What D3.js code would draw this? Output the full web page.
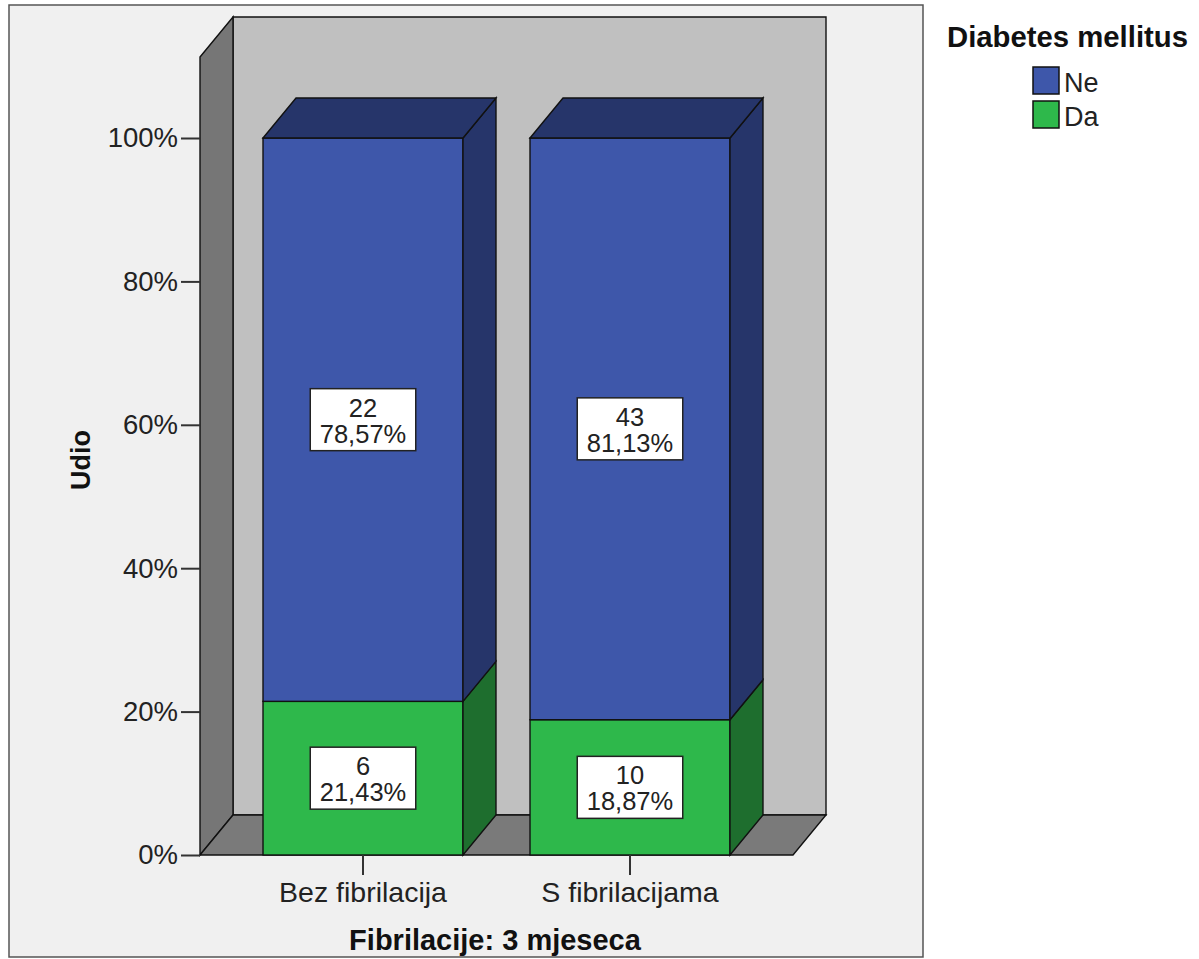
<!DOCTYPE html>
<html><head><meta charset="utf-8">
<script src="https://cdn.jsdelivr.net/npm/d3@7"></script>
<style>
html,body{margin:0;padding:0;background:#fff;}
svg{display:block;font-family:"Liberation Sans",Arial,sans-serif;}
</style></head>
<body>
<svg id="chart" width="1199" height="959"></svg>
<script>
// ---- data ----
const categories = ["Bez fibrilacija", "S fibrilacijama"];
const seriesNames = ["Ne", "Da"];
const countsNe = [22, 43];
const countsDa = [6, 10];
const pctNe = [78.57, 81.13];
const pctDa = [21.43, 18.87];
const yTicks = [0, 20, 40, 60, 80, 100];
const yTickLabels = ["0%", "20%", "40%", "60%", "80%", "100%"];
const yTitle = "Udio";
const xTitle = "Fibrilacije: 3 mjeseca";
const legendTitle = "Diabetes mellitus";

// ---- styles ----
const colFront = {Ne: "#3e57aa", Da: "#2eb84b"};
const colDark = {Ne: "#26356a", Da: "#1e6e2e"};
const DX = 33, DY = 40;
const font = '"Liberation Sans", Arial, sans-serif';

const svg = d3.select("#chart");

// frame
svg.append("rect").attr("x", 9).attr("y", 5).attr("width", 914).attr("height", 952)
  .attr("fill", "#f0f0f0").attr("stroke", "#555").attr("stroke-width", 1.5);

const x = d3.scaleBand().domain(categories).range([200, 793]).paddingInner(0.251).paddingOuter(0.236);
const y = d3.scaleLinear().domain([0, 100]).range([855, 138]);
const wallTopVal = 111.3;

const x0 = 200, x1 = 793;
const yb = y(0), yt = y(wallTopVal);
const stroke = "#111", sw = 1.4;

// back wall
svg.append("polygon")
  .attr("points", [[x0 + DX, yt - DY], [x1 + DX, yt - DY], [x1 + DX, yb - DY], [x0 + DX, yb - DY]].join(" "))
  .attr("fill", "#c0c0c0").attr("stroke", stroke).attr("stroke-width", sw);
// left wall
svg.append("polygon")
  .attr("points", [[x0, yt], [x0 + DX, yt - DY], [x0 + DX, yb - DY], [x0, yb]].join(" "))
  .attr("fill", "#767676").attr("stroke", stroke).attr("stroke-width", sw);
// floor
svg.append("polygon")
  .attr("points", [[x0, yb], [x0 + DX, yb - DY], [x1 + DX, yb - DY], [x1, yb]].join(" "))
  .attr("fill", "#7a7a7a").attr("stroke", stroke).attr("stroke-width", sw);

// y axis
const yAxis = svg.append("g").attr("transform", `translate(${x0},0)`)
  .call(d3.axisLeft(y).tickValues(yTicks).tickFormat((d, i) => yTickLabels[i]).tickSize(19).tickPadding(3));
yAxis.select(".domain").remove();
yAxis.selectAll("line").attr("stroke", "#333").attr("stroke-width", 2);
yAxis.selectAll("text").attr("font-family", font).attr("font-size", 27.5).attr("fill", "#222");

// bars
const rows = categories.map((c, i) => ({
  cat: c,
  segs: [
    {s: "Da", lo: 0, hi: pctDa[i], n: countsDa[i], p: pctDa[i]},
    {s: "Ne", lo: pctDa[i], hi: pctDa[i] + pctNe[i], n: countsNe[i], p: pctNe[i]}
  ]
}));

const fmt = v => v.toFixed(2).replace(".", ",") + "%";

rows.forEach(r => {
  const bx0 = x(r.cat), bx1 = x(r.cat) + x.bandwidth();
  const g = svg.append("g");
  r.segs.forEach(sg => {
    g.append("rect").attr("x", bx0).attr("y", y(sg.hi)).attr("width", bx1 - bx0).attr("height", y(sg.lo) - y(sg.hi))
      .attr("fill", colFront[sg.s]).attr("stroke", stroke).attr("stroke-width", sw);
    g.append("polygon")
      .attr("points", [[bx1, y(sg.hi)], [bx1 + DX, y(sg.hi) - DY], [bx1 + DX, y(sg.lo) - DY], [bx1, y(sg.lo)]].join(" "))
      .attr("fill", colDark[sg.s]).attr("stroke", stroke).attr("stroke-width", sw);
  });
  const top = r.segs[r.segs.length - 1];
  g.append("polygon")
    .attr("points", [[bx0, y(top.hi)], [bx0 + DX, y(top.hi) - DY], [bx1 + DX, y(top.hi) - DY], [bx1, y(top.hi)]].join(" "))
    .attr("fill", colDark[top.s]).attr("stroke", stroke).attr("stroke-width", sw);

  r.segs.forEach(sg => {
    const cx = (bx0 + bx1) / 2, cy = (y(sg.lo) + y(sg.hi)) / 2;
    const lg = svg.append("g");
    const box = lg.append("rect");
    const t1 = lg.append("text").attr("x", cx).attr("y", cy - 3).attr("text-anchor", "middle")
      .attr("font-family", font).attr("font-size", 25.5).attr("fill", "#222").text(sg.n);
    const t2 = lg.append("text").attr("x", cx).attr("y", cy + 23).attr("text-anchor", "middle")
      .attr("font-family", font).attr("font-size", 25.5).attr("fill", "#222").text(fmt(sg.p));
    const w = Math.max(t1.node().getBBox().width, t2.node().getBBox().width) + 19;
    box.attr("x", cx - w / 2).attr("y", cy - 31).attr("width", w).attr("height", 62)
      .attr("fill", "#fff").attr("stroke", "#222").attr("stroke-width", 1.5);
  });
});

// x axis
const xAxis = svg.append("g").attr("transform", `translate(0,${yb})`)
  .call(d3.axisBottom(x).tickSize(20).tickPadding(7));
xAxis.select(".domain").remove();
xAxis.selectAll("line").attr("stroke", "#333").attr("stroke-width", 2);
xAxis.selectAll("text").attr("font-family", font).attr("font-size", 28.5).attr("fill", "#222");

// titles
svg.append("text").attr("x", 495).attr("y", 950).attr("text-anchor", "middle")
  .attr("font-family", font).attr("font-weight", "bold").attr("font-size", 29).attr("fill", "#111").text(xTitle);
svg.append("text").attr("transform", "translate(90,460) rotate(-90)").attr("text-anchor", "middle")
  .attr("font-family", font).attr("font-weight", "bold").attr("font-size", 27).attr("fill", "#111").text(yTitle);

// legend
svg.append("text").attr("x", 947).attr("y", 47)
  .attr("font-family", font).attr("font-weight", "bold").attr("font-size", 29.3).attr("fill", "#111").text(legendTitle);
seriesNames.forEach((s, i) => {
  const ly = 67 + i * 34;
  svg.append("rect").attr("x", 1033).attr("y", ly).attr("width", 26).attr("height", 27)
    .attr("fill", colFront[s]).attr("stroke", "#111").attr("stroke-width", 1.5);
  svg.append("text").attr("x", 1064).attr("y", ly + 25)
    .attr("font-family", font).attr("font-size", 27).attr("fill", "#222").text(s);
});
</script>
</body></html>
